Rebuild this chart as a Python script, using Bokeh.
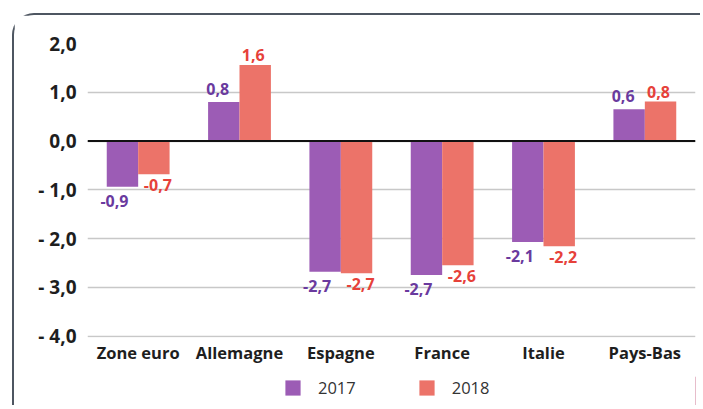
from bokeh.plotting import figure
from bokeh.layouts import column
from bokeh.models import (ColumnDataSource, FactorRange, Range1d, FixedTicker, Span,
                          Legend, LegendItem, LabelSet)
from bokeh.core.properties import value
from bokeh.transform import dodge
from bokeh.embed import file_html
from bokeh.resources import INLINE

# ---- data ----
categories = ["Zone euro", "Allemagne", "Espagne", "France", "Italie", "Pays-Bas"]
values_2017 = [-0.94, 0.80, -2.68, -2.75, -2.07, 0.65]
values_2018 = [-0.68, 1.56, -2.71, -2.55, -2.16, 0.81]
labels_2017 = ["-0,9", "0,8", "-2,7", "-2,7", "-2,1", "0,6"]
labels_2018 = ["-0,7", "1,6", "-2,7", "-2,6", "-2,2", "0,8"]
series = ["2017", "2018"]
y_ticks = [2, 1, 0, -1, -2, -3, -4]
y_tick_labels = ["2,0", "1,0", "0,0", "- 1,0", "- 2,0", "- 3,0", "- 4,0"]

BAR_COLORS = ["#9c5cb5", "#ec7369"]
TEXT_COLORS = ["#6a3a9e", "#e6413a"]
FONT = "Open Sans"

source = ColumnDataSource(dict(cat=categories, v2017=values_2017, v2018=values_2018))

p = figure(x_range=FactorRange(factors=categories), y_range=Range1d(-4.03, 2.0),
           width=686, height=361, output_backend="svg", toolbar_location=None,
           min_border_left=73, min_border_right=5, min_border_top=28, min_border_bottom=39,
           outline_line_color=None, background_fill_color="white", border_fill_color="white")

bw = 0.31
offsets = [-bw / 2, bw / 2]
renderers = []
for i, col in enumerate(["v2017", "v2018"]):
    r = p.vbar(x=dodge("cat", offsets[i], range=p.x_range), top=col, bottom=0, width=bw,
               source=source, fill_color=BAR_COLORS[i], line_color=None)
    renderers.append(r)

# value labels: (x shift, gap) for positive and negative bars, per series
all_vals = [values_2017, values_2018]
all_labs = [labels_2017, labels_2018]
pos_style = [(-6, 7), (-2, 4)]
neg_style = [(-8, 8), (4, 5)]
for i in range(2):
    pos = dict(cat=[], v=[], t=[])
    neg = dict(cat=[], v=[], t=[])
    for c, v, t in zip(categories, all_vals[i], all_labs[i]):
        d = pos if v >= 0 else neg
        d["cat"].append(c); d["v"].append(v); d["t"].append(t)
    for d, base, (xs, gap), sign in ((pos, "bottom", pos_style[i], 1),
                                     (neg, "top", neg_style[i], -1)):
        ls = LabelSet(x=dodge("cat", offsets[i], range=p.x_range), y="v", text="t",
                      source=ColumnDataSource(d), text_align="center", text_baseline=base,
                      x_offset=xs, y_offset=sign * gap, text_font=value(FONT),
                      text_font_size="16px", text_font_style="bold",
                      text_color=TEXT_COLORS[i])
        p.add_layout(ls)

# axes
p.yaxis.ticker = FixedTicker(ticks=y_ticks)
p.yaxis.major_label_overrides = {t: l for t, l in zip(y_ticks, y_tick_labels)}
p.yaxis.axis_line_color = None
p.yaxis.major_tick_line_color = None
p.yaxis.minor_tick_line_color = None
p.yaxis.major_tick_out = 0
p.yaxis.major_tick_in = 0
p.yaxis.major_label_standoff = 11
p.yaxis.major_label_text_font = FONT
p.yaxis.major_label_text_font_size = "19px"
p.yaxis.major_label_text_font_style = "bold"
p.yaxis.major_label_text_color = "#1e1e1e"

p.xaxis.axis_line_color = None
p.xaxis.major_tick_line_color = None
p.xaxis.minor_tick_line_color = None
p.xaxis.major_tick_out = 0
p.xaxis.major_tick_in = 0
p.xaxis.major_label_standoff = 3
p.xaxis.major_label_text_font = FONT
p.xaxis.major_label_text_font_size = "16.5px"
p.xaxis.major_label_text_font_style = "bold"
p.xaxis.major_label_text_color = "#1e1e1e"

p.xgrid.grid_line_color = None
p.ygrid.grid_line_color = "#c8c8c8"
p.ygrid.grid_line_width = 1.5

p.add_layout(Span(location=0, dimension="width", line_color="#111111", line_width=2))

# legend strip (separate figure so the legend is not clipped)
pl = figure(width=686, height=29, output_backend="svg", toolbar_location=None,
            x_range=Range1d(0, 1), y_range=Range1d(0, 1), x_axis_type=None, y_axis_type=None,
            min_border=0, outline_line_color=None, border_fill_color="white")
# legend-only renderers, placed outside the visible range
leg_renderers = [pl.vbar(x=[10], top=[1], width=0.1, fill_color=c, line_color=None)
                 for c in BAR_COLORS]
legend = Legend(items=[LegendItem(label=s, renderers=[r]) for s, r in zip(series, leg_renderers)],
                orientation="horizontal", location=(196, 6),
                glyph_width=19, glyph_height=19, label_standoff=16, spacing=61,
                padding=0, margin=0, border_line_color=None, background_fill_alpha=0,
                label_height=19, label_text_line_height=1.0,
                label_text_font=FONT, label_text_font_size="16.5px", label_text_color="#333333")
pl.add_layout(legend)

layout = column(p, pl, spacing=0)
layout.margin = (13, 0, 0, 12)
layout.styles = {"border-left": "2px solid #4e5661", "border-top": "2px solid #4e5661",
                 "border-top-left-radius": "22px", "background-color": "white"}

open("out.html", "w").write(file_html(layout, INLINE))
